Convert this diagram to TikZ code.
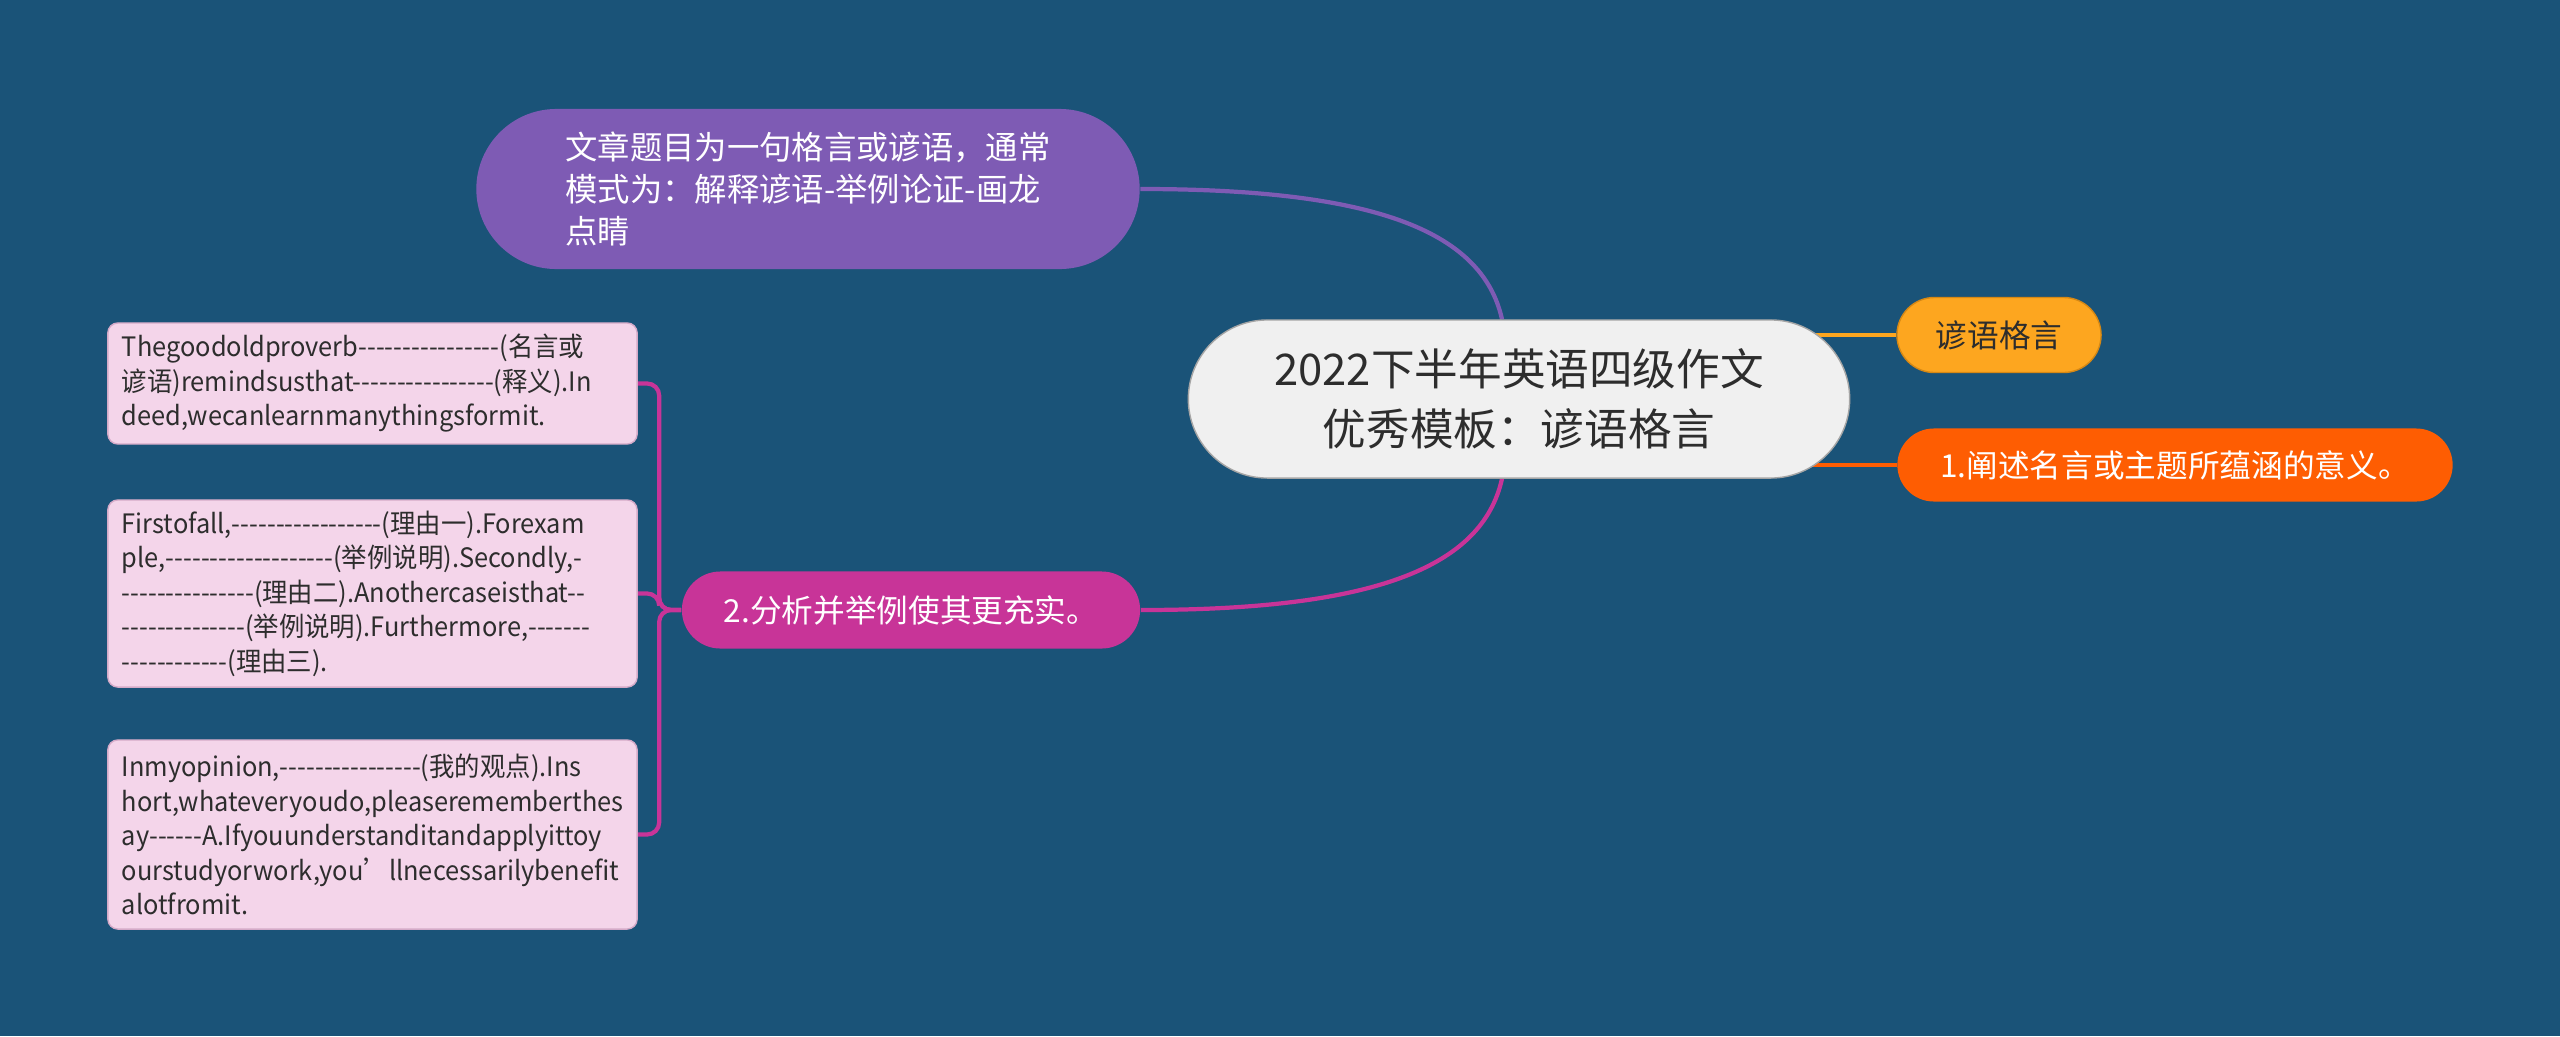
\documentclass[tikz,border=0pt]{standalone}
\usepackage{fontspec}
\setmainfont{Noto Sans CJK SC}[Ligatures=TeXOff]
\newfontfamily\leaffont{Noto Sans CJK SC}[Ligatures=TeXOff, FakeStretch=0.95]
\usepackage{xcolor}
\usepackage{tikz}
\usetikzlibrary{
	calc,
	shapes,
}
\definecolor{canvasblue}{RGB}{26,83,120}
\definecolor{rootfill}{RGB}{240,240,240}
\definecolor{rootborder}{RGB}{165,165,165}
\definecolor{purplebranch}{RGB}{126,91,180}
\definecolor{yellowbranch}{RGB}{253,166,31}
\definecolor{yellowborder}{RGB}{214,136,20}
\definecolor{orangebranch}{RGB}{254,93,2}
\definecolor{magentabranch}{RGB}{200,52,152}
\definecolor{leaffill}{RGB}{244,213,234}
\definecolor{leafborder}{RGB}{212,170,200}
\definecolor{darktext}{RGB}{45,45,45}
\pgfdeclarelayer{bg}
\pgfdeclarelayer{edges}
\pgfsetlayers{bg,edges,main}

\begin{document}
\begin{tikzpicture}[x=0.01cm, y=-0.01cm,
	pill/.style={inner sep=0pt, align=center, font=\fontsize{9}{12}\selectfont},
	leaf/.style={draw=leafborder, fill=leaffill, rounded corners=0.1cm, minimum width=5.29cm, text width=5.01cm, inner xsep=0.14cm, inner ysep=0pt, align=left, text=darktext, font=\leaffont\fontsize{7.6}{9.8}\selectfont},
	edge/.style={line width=1.2pt},
]
\useasboundingbox (0,0) rectangle (2560,1036);
% canvas
\begin{pgfonlayer}{bg}
\fill[canvasblue] (0,0) rectangle (2560,1036);
\end{pgfonlayer}

% root
\node[pill, fill=rootfill, draw=rootborder, minimum width=6.61cm, minimum height=1.58cm, rounded corners=0.79cm, text=darktext, font=\fontsize{12.4}{17}\selectfont] (root) at (1519,399) {2022下半年英语四级作文\\优秀模板：谚语格言};

% left branches
\node[pill, fill=purplebranch, minimum width=6.63cm, minimum height=1.6cm, rounded corners=0.8cm, text=white, align=left, font=\fontsize{9.2}{12}\selectfont] (pattern) at (808,189) {文章题目为一句格言或谚语，通常\\模式为：解释谚语-举例论证-画龙\\点睛};
\node[pill, fill=magentabranch, minimum width=4.58cm, minimum height=0.77cm, rounded corners=0.385cm, text=white] (analysis) at (911,610) {2.分析并举例使其更充实。};

% right branches
\node[pill, fill=yellowbranch, draw=yellowborder, minimum width=2.04cm, minimum height=0.75cm, rounded corners=0.375cm, text=darktext] (proverb) at (1999,335) {谚语格言};
\node[pill, fill=orangebranch, minimum width=5.55cm, minimum height=0.73cm, rounded corners=0.365cm, text=white] (meaning) at (2175,465) {1.阐述名言或主题所蕴涵的意义。};

% leaves of 2.
\node[leaf, minimum height=1.21cm] (leafa) at (372.5,383.5) {Thegoodoldproverb----------------(名言或\\谚语)remindsusthat----------------(释义).In\\deed,wecanlearnmanythingsformit.};
\node[leaf, minimum height=1.87cm] (leafb) at (372.5,593.5) {Firstofall,-----------------(理由一).Forexam\\ple,-------------------(举例说明).Secondly,-\\---------------(理由二).Anothercaseisthat--\\--------------(举例说明).Furthermore,-------\\------------(理由三).};
\node[leaf, minimum height=1.89cm] (leafc) at (372.5,834.5) {Inmyopinion,----------------(我的观点).Ins\\hort,whateveryoudo,pleaserememberthes\\ay------A.Ifyouunderstanditandapplyittoy\\ourstudyorwork,you’llnecessarilybenefit\\alotfromit.};

% connectors
\begin{pgfonlayer}{edges}
\draw[edge, purplebranch] ([xshift=-0.17cm]root.north) .. controls +(-20,-90) and +(230,0) .. (pattern.east);
\draw[edge, magentabranch] ([xshift=-0.17cm]root.south) .. controls +(-20,90) and +(230,0) .. (analysis.east);
\draw[edge, yellowbranch] (root.center |- proverb.west) -- (proverb.west);
\draw[edge, orangebranch] (root.center |- meaning.west) -- (meaning.west);
\foreach \leaf in {leafa,leafb,leafc}
	\draw[edge, magentabranch, rounded corners=0.12cm] (analysis.west) -- ++(-22,0) |- (\leaf.east);
\end{pgfonlayer}
\end{tikzpicture}
\end{document}
